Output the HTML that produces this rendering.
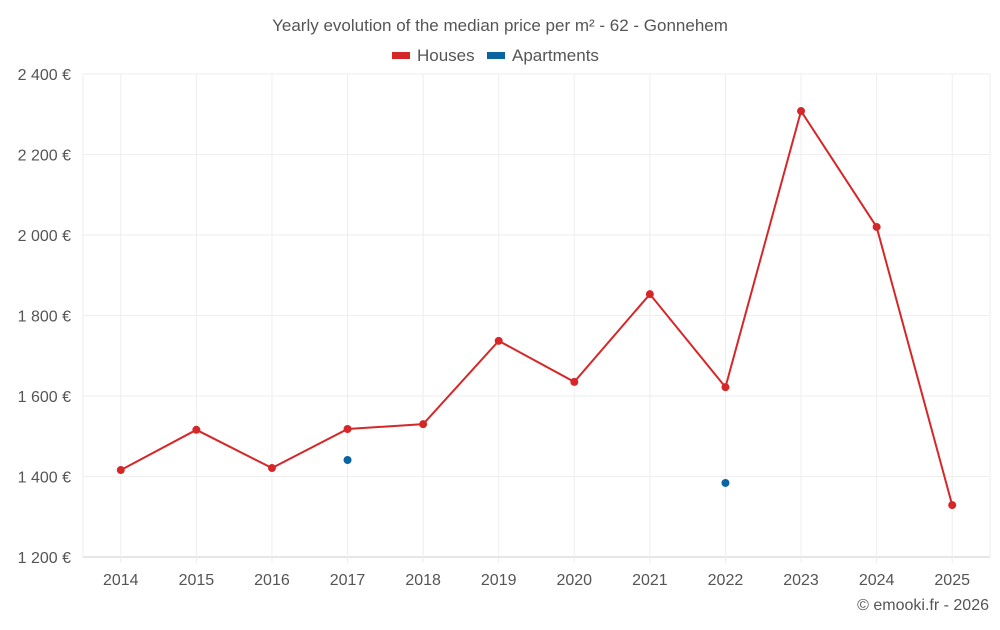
<!DOCTYPE html>
<html><head><meta charset="utf-8">
<style>
body{margin:0;background:#fff;font-family:"Liberation Sans",sans-serif;}
svg text{font-family:"Liberation Sans",sans-serif;}
</style></head>
<body>
<svg id="chart" width="1000" height="625" viewBox="0 0 1000 625">
<text x="500" y="31" text-anchor="middle" font-size="17" fill="#555">Yearly evolution of the median price per m² - 62 - Gonnehem</text>
<g>
<g><rect x="392" y="52" width="18" height="7" fill="#d62728"/><text x="417" y="61" font-size="17" fill="#555">Houses</text></g>
<g><rect x="487" y="52" width="18" height="7" fill="#0a64a0"/><text x="512" y="61" font-size="17" fill="#555">Apartments</text></g>
</g>
<g id="grid"></g><g id="axes"></g><g id="series"></g>
<text x="989" y="610" text-anchor="end" font-size="16" fill="#555">© emooki.fr - 2026</text>
</svg>
<script>
const years=["2014","2015","2016","2017","2018","2019","2020","2021","2022","2023","2024","2025"];
const houses=[1416,1516,1421,1518,1530,1737,1635,1853,1622,2308,2020,1329];
const apartments=[null,null,null,1441,null,null,null,null,1384,null,null,null];
const yTicks=[1200,1400,1600,1800,2000,2200,2400];
const yLabels=["1 200 €","1 400 €","1 600 €","1 800 €","2 000 €","2 200 €","2 400 €"];
const NS="http://www.w3.org/2000/svg";
const L=83,R=990,T=74,B=557;
const band=(R-L)/years.length;
const x=i=>L+(i+0.5)*band;
const y=v=>B-(v-1200)/(2400-1200)*(B-T);
function mk(tag,attrs,parent){const e=document.createElementNS(NS,tag);for(const k in attrs)e.setAttribute(k,attrs[k]);parent.appendChild(e);return e;}
const grid=document.getElementById('grid'),axes=document.getElementById('axes'),series=document.getElementById('series');
yTicks.forEach((t,i)=>{
 const g=mk('line',{x1:L,x2:R,y1:y(t),y2:y(t),stroke:t===1200?'#ccc':'#eee','stroke-width':1},grid);
 
 
 const tx=mk('text',{x:71,y:y(t)+6,'text-anchor':'end','font-size':16,fill:'#555'},axes);
 tx.textContent=yLabels[i];
 
 
});
const la=mk('line',{x1:L,x2:L,y1:T,y2:B,stroke:'#eee'},grid);


const ra=mk('line',{x1:R,x2:R,y1:T,y2:B,stroke:'#eee'},grid);


years.forEach((yr,i)=>{
 const g=mk('line',{x1:x(i),x2:x(i),y1:T,y2:B+6,stroke:'#eee'},grid);
 
 
 const tx=mk('text',{x:x(i),y:585,'text-anchor':'middle','font-size':16,fill:'#555'},axes);
 tx.textContent=yr;
 
 
});
const pl=mk('polyline',{points:houses.map((v,i)=>x(i)+','+y(v)).join(' '),fill:'none',stroke:'#d62728','stroke-width':2},series);


houses.forEach((v,i)=>{
 const c=mk('circle',{cx:x(i),cy:y(v),r:4,fill:'#d62728'},series);
 
 
});
apartments.forEach((v,i)=>{
 if(v==null)return;
 const c=mk('circle',{cx:x(i),cy:y(v),r:4,fill:'#0a64a0'},series);
 
 
});
</script>
</body></html>
